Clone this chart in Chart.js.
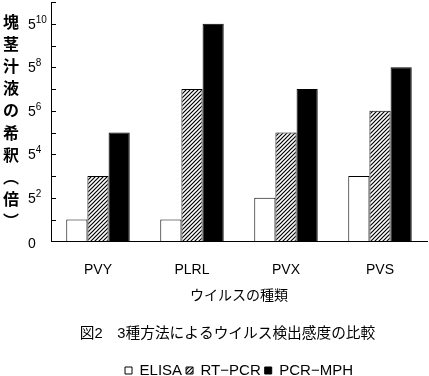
<!DOCTYPE html>
<html><head><meta charset="utf-8">
<script src="https://cdn.jsdelivr.net/npm/chart.js@4/dist/chart.umd.min.js"></script>
<style>html,body{margin:0;padding:0;background:#fff;}#wrap{width:429px;height:376px;}</style>
</head><body><div id="wrap"><canvas id="c" width="429" height="376"></canvas></div>
<script>
// ---- data ----
const categories = ['PVY', 'PLRL', 'PVX', 'PVS'];
const seriesNames = ['ELISA', 'RT\u2212PCR', 'PCR\u2212MPH'];
const elisa  = [1, 1, 2, 3];   // exponent of 5
const rtpcr  = [3, 7, 5, 6];
const pcrmph = [5, 10, 7, 8];
// tick label = [base, exponent]
const yTickLabels = {0: ['0', ''], 2: ['5', '2'], 4: ['5', '4'], 6: ['5', '6'], 8: ['5', '8'], 10: ['5', '10']};
const yTitleChars = ['塊', '茎', '汁', '液', 'の', '希', '釈', '︵', '倍', '︶'];
const xTitle = 'ウイルスの種類';
const caption = '図2\u30003種方法によるウイルス検出感度の比較';

const LAT = '"Liberation Sans", Arial, sans-serif';
const JP = '"Noto Sans CJK JP", sans-serif';

function hatch() {
  const s = 4, c = document.createElement('canvas');
  c.width = s; c.height = s;
  const g = c.getContext('2d');
  g.fillStyle = '#fff'; g.fillRect(0, 0, s, s);
  g.strokeStyle = '#000'; g.lineWidth = 1.2;
  g.beginPath();
  g.moveTo(0, s); g.lineTo(s, 0);
  g.moveTo(-1, 1); g.lineTo(1, -1);
  g.moveTo(s - 1, s + 1); g.lineTo(s + 1, s - 1);
  g.stroke();
  return g.createPattern(c, 'repeat');
}

const decor = {
  id: 'decor',
  afterDraw(chart) {
    const {ctx, scales: {y}, chartArea} = chart;
    ctx.save();
    ctx.strokeStyle = '#000'; ctx.lineWidth = 1;
    ctx.fillStyle = '#000';
    ctx.textAlign = 'left'; ctx.textBaseline = 'middle';
    y.ticks.forEach(t => {
      const py = y.getPixelForValue(t.value);
      if (t.value !== 0) {
        const yy = Math.round(py) + 0.5;
        ctx.beginPath(); ctx.moveTo(chartArea.left, yy); ctx.lineTo(chartArea.left + 5, yy); ctx.stroke();
      }
      const lab = yTickLabels[t.value];
      if (!lab) return;
      const ly = py + (t.value === 0 ? 3 : 1);
      ctx.font = '14px ' + LAT;
      ctx.fillText(lab[0], 28, ly);
      if (lab[1]) {
        const w = ctx.measureText(lab[0]).width;
        ctx.font = '10px ' + LAT;
        ctx.fillText(lab[1], 28 + w, ly - 5);
      }
    });
    ctx.font = 'bold 16px ' + JP;
    ctx.textAlign = 'center';
    yTitleChars.forEach((ch, i) => ctx.fillText(ch, 11, 22 + i * 22.1));
    ctx.restore();
  }
};

new Chart(document.getElementById('c'), {
  type: 'bar',
  data: {
    labels: categories,
    datasets: [
      {label: seriesNames[0], data: elisa,  backgroundColor: '#fff',   borderColor: '#000', borderWidth: 1},
      {label: seriesNames[1], data: rtpcr,  backgroundColor: hatch(),  borderColor: '#000', borderWidth: 1},
      {label: seriesNames[2], data: pcrmph, backgroundColor: '#000',   borderColor: '#000', borderWidth: 1}
    ]
  },
  options: {
    responsive: false, animation: false, devicePixelRatio: 1,
    layout: {padding: {left: 28, right: 2, top: 2, bottom: -12}},
    datasets: {bar: {categoryPercentage: 0.675, barPercentage: 1}},
    scales: {
      x: {
        grid: {display: false, drawTicks: false},
        border: {display: true, color: '#000', width: 1},
        ticks: {padding: 20, color: '#000', font: {family: LAT, size: 14}},
        title: {display: true, text: xTitle, color: '#000', font: {family: JP, size: 14}, padding: {top: 0, bottom: 1}},
        afterFit: s => { s.height = 62.4; }
      },
      y: {
        min: 0, max: 11,
        grid: {display: false, drawTicks: false},
        border: {display: true, color: '#000', width: 1},
        ticks: {display: false, stepSize: 1, autoSkip: false},
        afterFit: s => { s.width = 23; s.paddingTop = 0; s.paddingBottom = 0; }
      }
    },
    plugins: {
      legend: {
        position: 'bottom', weight: 1000, fullSize: false,
        labels: {boxWidth: 7, boxHeight: 7, color: '#000', font: {family: LAT, size: 15}, padding: 4}
      },
      title: {
        display: true, position: 'bottom', weight: 500, text: caption, color: '#000',
        font: {family: LAT + ', ' + JP, size: 14.7, weight: 'normal'}, padding: {top: 21.2, bottom: 16.5}
      },
      tooltip: {enabled: false}
    }
  },
  plugins: [decor]
});
</script></body></html>
